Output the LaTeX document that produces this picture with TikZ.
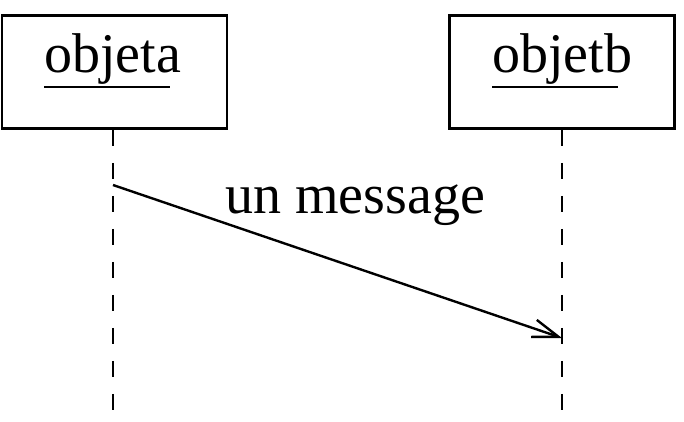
\documentclass[tikz,border=0pt]{standalone}
\usepackage{fontspec}
\setmainfont{Liberation Serif}
\usetikzlibrary{arrows.meta}
\begin{document}
\begin{tikzpicture}[x=1pt,y=-1pt,
  objbox/.style={draw,line width=2.6pt,minimum width=225pt,minimum height=113pt,inner sep=0pt},
  lbl/.style={font=\fontsize{56}{60}\selectfont,inner sep=0pt,anchor=base},
  uline/.style={line width=2.6pt},
  lifeline/.style={line width=2.6pt,dash pattern=on 16pt off 17pt},
  msg/.style={line width=2.4pt,-{Straight Barb[length=26pt,width=18pt,line width=2.4pt]}}]
\useasboundingbox (0,0) rectangle (684,422);
\node[objbox] (a) at (114.5,72) {};
\node[objbox] (b) at (562,72) {};
\node[lbl] (ta) at (112.5,73) {objeta};
\node[lbl] (tb) at (562,73) {objetb};
\coordinate (ua1) at (44,87); \coordinate (ua2) at (170,87);
\coordinate (ub1) at (492,87); \coordinate (ub2) at (618,87);
\draw[uline] (ua1) -- (ua2);
\draw[uline] (ub1) -- (ub2);
\coordinate (ea) at (113,410);
\coordinate (eb) at (562,410);
\draw[lifeline] (a.south -| ea) -- (ea);
\draw[lifeline] (b.south -| eb) -- (eb);
\coordinate (m1) at (113,185);
\coordinate (m2) at (562,338);
\draw[msg] (m1) -- (m2);
\node[lbl] (tm) at (355,213) {un message};
\end{tikzpicture}
\end{document}
